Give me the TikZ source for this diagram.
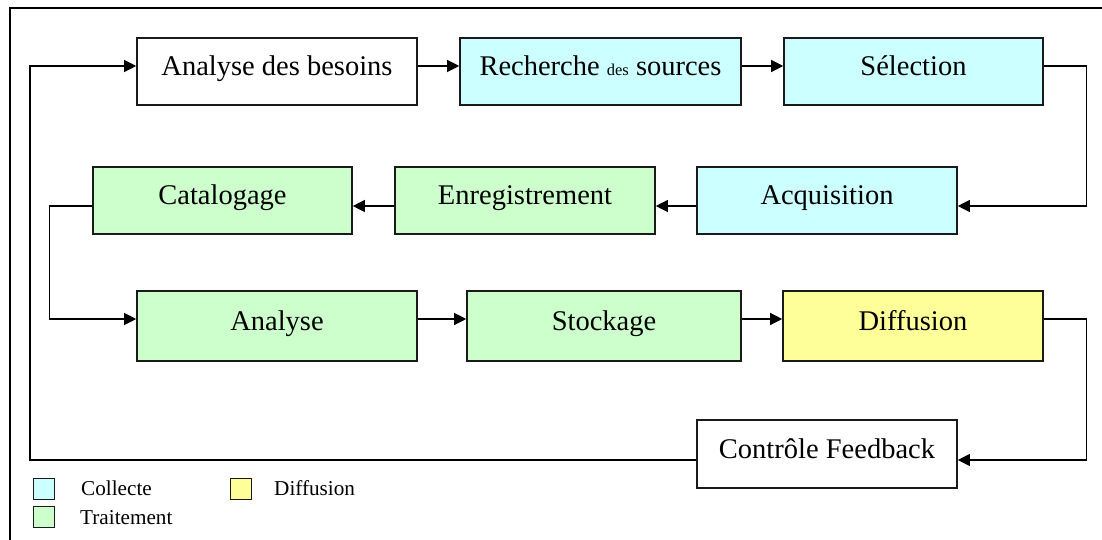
\documentclass[tikz,border=0pt]{standalone}
\usepackage{fontspec}
\setmainfont{Liberation Serif}
\usetikzlibrary{arrows.meta,calc}
\definecolor{ccyan}{HTML}{CCFFFF}
\definecolor{cgreen}{HTML}{CCFFCC}
\definecolor{cyellow}{HTML}{FFFF99}
\definecolor{cborder}{HTML}{1A1A1A}
\begin{document}
\begin{tikzpicture}[x=1pt,y=-1pt,
  stepbox/.style={draw=cborder,line width=1.6pt,inner sep=0pt,minimum height=67pt,
    text height=22pt,text depth=14pt,font=\fontsize{28.5pt}{30pt}\selectfont},
  wbox/.style={stepbox,fill=white},
  cbox/.style={stepbox,fill=ccyan},
  gbox/.style={stepbox,fill=cgreen},
  ybox/.style={stepbox,fill=cyellow},
  conn/.style={line width=1.2pt,-{Triangle[length=12pt,width=12pt]}},
  legsq/.style={draw=cborder,line width=1.4pt,minimum width=21pt,minimum height=21pt,inner sep=0pt},
  legtx/.style={anchor=base west,inner sep=0pt,font=\fontsize{21.2pt}{23pt}\selectfont}]
\useasboundingbox (0,0) rectangle (1102,540);
% frame
\draw[line width=2pt] (10,540) -- (10,8) -- (1102,8);
% row 1
\node[wbox,minimum width=280pt] (bes) at (277,71.5) {Analyse des besoins};
\node[cbox,minimum width=281pt] (rec) at (600.5,71.5) {Recherche {\fontsize{16.5pt}{18pt}\selectfont des} sources};
\node[cbox,minimum width=259pt] (sel) at (913.5,71.5) {Sélection};
% row 2
\node[gbox,minimum width=259pt] (cat) at (222.5,200.5) {Catalogage};
\node[gbox,minimum width=260pt] (enr) at (525,200.5) {Enregistrement};
\node[cbox,minimum width=260pt] (acq) at (827,200.5) {Acquisition};
% row 3
\node[gbox,minimum width=280pt,minimum height=70pt] (ana) at (277,326) {Analyse};
\node[gbox,minimum width=274pt,minimum height=70pt] (sto) at (604,326) {Stockage};
\node[ybox,minimum width=260pt,minimum height=70pt] (dif) at (913,326) {Diffusion};
% feedback
\node[wbox,minimum width=260pt,minimum height=68pt] (ctl) at (827,454) {Contrôle Feedback};
\coordinate (lb) at (30,460);
% connectors
\draw[conn] ([yshift=5.5pt]bes.east) -- ([yshift=5.5pt]rec.west);
\draw[conn] ([yshift=5.5pt]rec.east) -- ([yshift=5.5pt]sel.west);
\draw[conn] ([yshift=5.5pt]sel.east) -- ++(43,0) |- ([yshift=-5.5pt]acq.east);
\draw[conn] ([yshift=-5.5pt]acq.west) -- ([yshift=-5.5pt]enr.east);
\draw[conn] ([yshift=-5.5pt]enr.west) -- ([yshift=-5.5pt]cat.east);
\draw[conn] ([yshift=-5.5pt]cat.west) -- ++(-43,0) |- ([yshift=7pt]ana.west);
\draw[conn] ([yshift=7pt]ana.east) -- ([yshift=7pt]sto.west);
\draw[conn] ([yshift=7pt]sto.east) -- ([yshift=7pt]dif.west);
\draw[conn] ([yshift=7pt]dif.east) -- ++(43,0) |- ([yshift=-6pt]ctl.east);
\draw[conn] ([yshift=-6pt]ctl.west) -- (lb) |- ([yshift=5.5pt]bes.west);
% legend
\node[legsq,fill=ccyan] (lc) at (44,489) {};
\node[legsq,fill=cgreen] (lt) at (44,517) {};
\node[legsq,fill=cyellow] (ld) at (241,489) {};
\node[legtx] (lct) at (81,495) {Collecte};
\node[legtx] (ltt) at (80,524) {Traitement};
\node[legtx] (ldt) at (274,495) {Diffusion};
\end{tikzpicture}
\end{document}
